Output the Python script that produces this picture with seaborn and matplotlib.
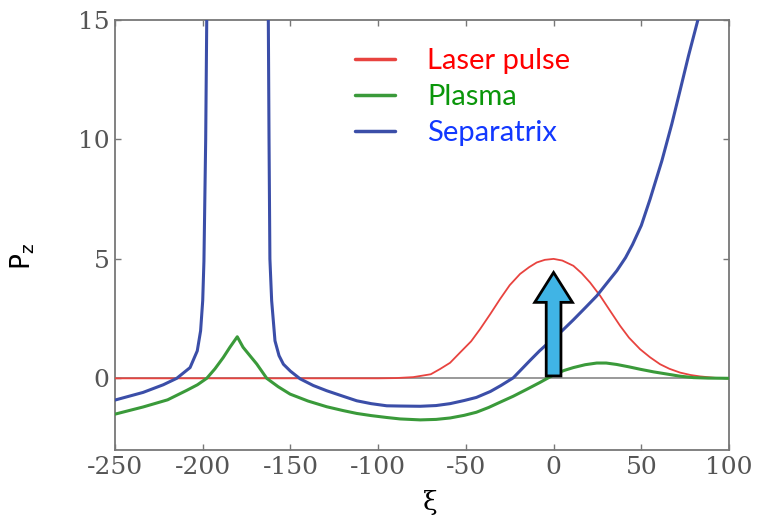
import numpy as np
import pandas as pd
import matplotlib
matplotlib.use("Agg")
import matplotlib.pyplot as plt
import seaborn as sns

# values
laser_xi = [-250, -100, -90, -80, -70, -64.7, -59, -53.3, -47, -41.9, -36, -30.5, -25, -19.1, -14, -9.6, -5, 0,
            5, 11.3, 16, 20.8, 26.5, 32, 37.9, 43, 49.3, 55, 60.7, 66, 72.1, 78, 83.5, 92, 100]
laser_pz = [0, 0, 0.01, 0.05, 0.17, 0.39, 0.65, 1.08, 1.55, 2.06, 2.7, 3.32, 3.9, 4.37, 4.65, 4.85, 4.96, 5.0,
            4.93, 4.71, 4.4, 4.01, 3.46, 2.85, 2.2, 1.7, 1.22, 0.88, 0.59, 0.4, 0.24, 0.14, 0.08, 0.02, 0]

plasma_xi = [-250, -234, -220, -209, -203, -197.7, -193, -188.3, -184.5, -180.3, -177, -173, -169.2, -163.5,
             -157, -150.2, -140, -129.3, -120, -112.2, -104, -95.1, -87.5, -76, -67, -59, -51, -44, -37,
             -30.5, -23, -15, -7.7, 0.9, 6, 11.3, 18, 24.6, 30, 36, 43, 49.3, 57, 64.5, 72, 79.7, 88, 100]
plasma_pz = [-1.5, -1.2, -0.9, -0.5, -0.27, 0, 0.4, 0.87, 1.3, 1.74, 1.3, 0.94, 0.6, 0,
             -0.35, -0.66, -0.95, -1.19, -1.35, -1.47, -1.56, -1.64, -1.7, -1.74, -1.72, -1.66, -1.55, -1.42, -1.22,
             -1.0, -0.75, -0.45, -0.17, 0.18, 0.33, 0.45, 0.57, 0.64, 0.64, 0.58, 0.48, 0.38, 0.27, 0.18, 0.09, 0.03, 0.01, 0]

separatrix_xi = [-250, -234, -222.5, -214.8, -207.2, -203.1, -201.2, -200, -199.3, -198.3, -197.7, -197.2,
                 -163.1, -162.6, -162.2, -161.7, -160.7, -158.8, -156.5, -154, -150, -144.5, -137, -129.3,
                 -120, -112.2, -104, -95.1, -87.5, -76, -67, -59, -51, -44, -36, -30, -23, -18, -13.4, -8,
                 -2, 5, 11.3, 18, 24.6, 30, 36, 41, 45, 50, 55, 61.7, 67.4, 72.1, 76.9, 82.6, 86]
separatrix_pz = [-0.91, -0.59, -0.27, 0.0, 0.45, 1.15, 1.99, 3.25, 4.9, 10, 15, 25,
                 25, 15, 10, 5, 3.25, 1.57, 0.95, 0.59, 0.3, -0.02, -0.3, -0.52,
                 -0.75, -0.94, -1.06, -1.15, -1.16, -1.17, -1.14, -1.06, -0.93, -0.8, -0.55, -0.3, 0.02, 0.4, 0.75, 1.15,
                 1.55, 2.0, 2.45, 2.95, 3.45, 3.95, 4.5, 5.05, 5.6, 6.4, 7.5, 9.1, 10.65, 12.05, 13.5, 15.1, 16.1]

series_names = ["Laser pulse", "Plasma", "Separatrix"]
line_colors = ["#e8433f", "#3a9a3a", "#3b4ea8"]
text_colors = ["#ff0000", "#0a960a", "#1238ff"]
line_widths = [1.3, 2.2, 2.2]

x_ticks = [-250, -200, -150, -100, -50, 0, 50, 100]
y_ticks = [0, 5, 10, 15]

sns.set_theme(style="white")
plt.rcParams["axes.unicode_minus"] = False

fig = plt.figure(figsize=(7.59, 5.21), dpi=100)
ax = fig.add_axes([0.1515, 0.1363, 0.809, 0.8253])

ax.axhline(0, color="#888888", lw=1.2, zorder=1)

frames = [
    pd.DataFrame({"xi": laser_xi, "Pz": laser_pz}),
    pd.DataFrame({"xi": plasma_xi, "Pz": plasma_pz}),
    pd.DataFrame({"xi": separatrix_xi, "Pz": separatrix_pz}),
]
for df, name, c, w in zip(frames, series_names, line_colors, line_widths):
    sns.lineplot(data=df, x="xi", y="Pz", ax=ax, color=c, lw=w, label=name,
                 estimator=None, sort=False, zorder=3)

# arrow marking the pulse centre
ax.arrow(0, 0.1, 0, 4.33, width=8.4, head_width=21.5, head_length=1.25,
         length_includes_head=True, fc="#40b4e5", ec="black", lw=2.0, zorder=5)

ax.set_xlim(-250, 100)
ax.set_ylim(-3, 15)
ax.set_xticks(x_ticks)
ax.set_yticks(y_ticks)
ax.set_xticklabels([str(t) for t in x_ticks], family="DejaVu Serif", fontsize=18, color="#555555")
ax.set_yticklabels([str(t) for t in y_ticks], family="DejaVu Serif", fontsize=18, color="#555555")
ax.tick_params(direction="in", length=4, width=1, color="#777777", top=True, right=True,
               bottom=True, left=True, pad=4)
for s in ax.spines.values():
    s.set_color("#777777")
    s.set_linewidth(1.3)

ax.set_xlabel("ξ", family="DejaVu Serif", fontsize=19, color="black", va="center")
ax.xaxis.set_label_coords(0.513, -0.123)
ax.set_ylabel(r"P$_\mathregular{z}$", fontsize=19, color="black", va="center")
ax.yaxis.set_label_coords(-0.15, 0.45)

leg = ax.legend(loc="upper left", bbox_to_anchor=(0.391, 0.935), frameon=False,
                prop={"family": "Lato", "size": 21}, handlelength=1.37, handletextpad=1.1,
                labelspacing=0.34, borderpad=0, borderaxespad=0)
for t, c in zip(leg.get_texts(), text_colors):
    t.set_color(c)
for h in leg.get_lines():
    h.set_linewidth(2.5)

fig.savefig("out.png", dpi=100)
